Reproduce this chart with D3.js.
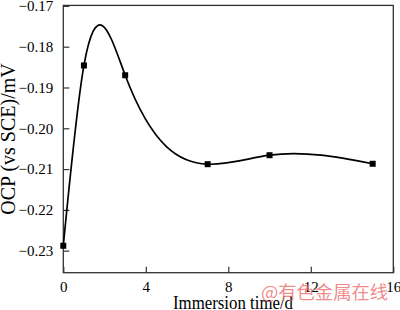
<!DOCTYPE html>
<html>
<head>
<meta charset="utf-8">
<script src="https://cdn.jsdelivr.net/npm/d3@7"></script>
<style>
  body { margin: 0; background: #fff; }
  svg { display: block; }
  text { font-family: "Liberation Serif", "Times New Roman", serif; fill: #000; }
</style>
</head>
<body>
<svg id="chart" width="400" height="310"></svg>
<script>
// values
const days = [0, 1, 3, 7, 10, 15];
const ocp = [-0.2288, -0.1846, -0.1870, -0.2088, -0.2066, -0.2087];
const xTicks = [0, 4, 8, 12, 16];
const yTicks = [-0.23, -0.22, -0.21, -0.20, -0.19, -0.18, -0.17];

// natural cubic spline in x (points must be x-ascending)
function curveSplineX(context) {
    return {
        areaStart() {}, areaEnd() {},
        lineStart() { this.xs = []; this.ys = []; },
        point(x, y) { this.xs.push(+x); this.ys.push(+y); },
        lineEnd() {
            let x = this.xs, y = this.ys, n = x.length;
            let h = [], s = [];
            for (let i = 0; i < n - 1; i++) {
                h.push(x[i + 1] - x[i]);
                s.push((y[i + 1] - y[i]) / h[i]);
            }
            // tridiagonal solve for second derivatives
            let M = new Array(n).fill(0);
            let cp = [], dp = [];
            for (let i = 1; i < n - 1; i++) {
                let a = h[i - 1], b = 2 * (h[i - 1] + h[i]), c = h[i];
                let d = 6 * (s[i] - s[i - 1]);
                if (i > 1) { b -= a * cp[i - 1]; d -= a * dp[i - 1]; }
                cp[i] = c / b; dp[i] = d / b;
            }
            for (let i = n - 2; i >= 1; i--) M[i] = dp[i] - cp[i] * M[i + 1];
            context.moveTo(x[0], y[0]);
            for (let i = 0; i < n - 1; i++) {
                let d0 = s[i] - h[i] * (2 * M[i] + M[i + 1]) / 6;
                let d1 = s[i] + h[i] * (M[i] + 2 * M[i + 1]) / 6;
                context.bezierCurveTo(
                    x[i] + h[i] / 3, y[i] + d0 * h[i] / 3,
                    x[i + 1] - h[i] / 3, y[i + 1] - d1 * h[i] / 3,
                    x[i + 1], y[i + 1]);
            }
        }
    };
}

const svg = d3.select("#chart");
const plotL = 63.3, plotR = 393.3, plotT = 5.9, plotB = 272.7;

const x = d3.scaleLinear().domain([0, 16]).range([plotL, plotR]);
const y = d3.scaleLinear().domain([-0.2354, -0.17]).range([plotB, plotT]);

// frame
svg.append("rect")
    .attr("x", plotL).attr("y", plotT - 0.5)
    .attr("width", plotR - plotL).attr("height", plotB - plotT + 0.5)
    .attr("fill", "none").attr("stroke", "#333").attr("stroke-width", 1.3);

const xAxis = svg.append("g")
    .attr("transform", `translate(0,${plotB})`)
    .call(d3.axisBottom(x).tickValues(xTicks).tickSizeInner(-6).tickSizeOuter(0).tickPadding(9));

const yAxis = svg.append("g")
    .attr("transform", `translate(${plotL},0)`)
    .call(d3.axisLeft(y).tickValues(yTicks).tickSizeInner(-6).tickSizeOuter(0).tickPadding(10)
        .tickFormat(d3.format(".2f")));

[xAxis, yAxis].forEach(ax => {
    ax.select(".domain").remove();
    ax.selectAll(".tick line").attr("stroke", "#333").attr("stroke-width", 1.2);
    ax.selectAll(".tick text").style("font-size", "15px").attr("fill", "#000");
});

// curve
const pts = days.map((d, i) => [d, ocp[i]]);
svg.append("path")
    .datum(pts)
    .attr("fill", "none").attr("stroke", "#000").attr("stroke-width", 1.7)
    .attr("d", d3.line().x(d => x(d[0])).y(d => y(d[1])).curve(curveSplineX));

// markers
svg.selectAll("rect.pt")
    .data(pts)
    .join("rect")
    .attr("class", "pt")
    .attr("x", d => x(d[0]) - 3).attr("y", d => y(d[1]) - 3)
    .attr("width", 6).attr("height", 6)
    .attr("fill", "#000");

// axis titles
svg.append("text")
    .attr("x", 173).attr("y", 308.5)
    .attr("textLength", 120).attr("lengthAdjust", "spacingAndGlyphs")
    .style("font-size", "18px")
    .text("Immersion time/d");

svg.append("text")
    .attr("transform", "translate(15,139) rotate(-90)")
    .attr("text-anchor", "middle")
    .style("font-size", "20px")
    .text("OCP (vs SCE)/mV");

// watermark
svg.append("text")
    .attr("x", 261).attr("y", 299)
    .attr("textLength", 127).attr("lengthAdjust", "spacingAndGlyphs")
    .style("font-family", "'Noto Sans CJK SC', sans-serif")
    .style("font-size", "18px")
    .style("fill", "#ec6d6d").style("fill-opacity", 0.8)
    .text("@有色金属在线");
</script>
</body>
</html>
